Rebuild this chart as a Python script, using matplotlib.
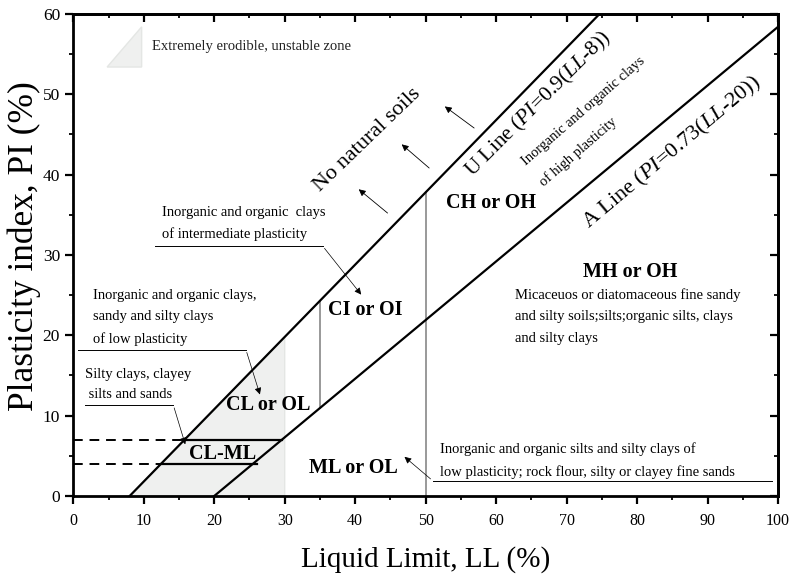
import numpy as np
import matplotlib.pyplot as plt
from matplotlib.patches import Polygon

plt.rcParams['font.family'] = 'Liberation Serif'
plt.rcParams['mathtext.fontset'] = 'custom'
plt.rcParams['mathtext.rm'] = 'Liberation Serif'
plt.rcParams['mathtext.it'] = 'Liberation Serif:italic'
plt.rcParams['hatch.color'] = '#c8c8c8'
plt.rcParams['hatch.linewidth'] = 0.6

# ---------------- chart data ----------------
u_ll = [8, 74.67]          # U line PI = 0.9(LL-8)
u_pi = [0, 60]
a_ll = [20, 100]           # A line PI = 0.73(LL-20)
a_pi = [0, 58.4]
zone_ll = [8, 30, 30]      # extremely erodible zone
zone_pi = [0, 19.8, 0]
clml_ll = [12.44, 15.78, 29.59, 25.48]
clml_pi = [4, 7, 7, 4]
pi7_dash = [0, 15.78]
pi4_dash = [0, 12.44]
pi7_solid = [15.78, 29.59]
pi4_solid = [12.44, 26.0]
v35_pi = [10.95, 24.3]
v50_pi = [0, 37.8]

fig = plt.figure(figsize=(7.95, 5.76), dpi=100)
ax = fig.add_axes([0.0922, 0.1389, 0.8864, 0.8368])

ax.add_patch(Polygon(list(zip(zone_ll, zone_pi)), closed=True, fc='#eff0ef', ec='#e4e6e4', lw=1, zorder=1))
ax.add_patch(Polygon(list(zip(clml_ll, clml_pi)), closed=True, fc='none', ec='none', hatch='////', zorder=1.5))

ax.plot(u_ll, u_pi, c='k', lw=1.6, zorder=3)
ax.plot(a_ll, a_pi, c='k', lw=1.6, zorder=3)
ax.plot([35, 35], v35_pi, c='#999999', lw=1.4, zorder=2)
ax.plot([50, 50], v50_pi, c='#999999', lw=1.4, zorder=2)
ax.plot(pi7_dash, [7, 7], '--', c='k', lw=1.4, dashes=(5, 3.5))
ax.plot(pi4_dash, [4, 4], '--', c='k', lw=1.4, dashes=(5, 3.5))
ax.plot(pi7_solid, [7, 7], c='k', lw=1.6)
ax.plot(pi4_solid, [4, 4], c='k', lw=1.6)

ax.set_xlim(0, 100)
ax.set_ylim(0, 60)
ax.set_xticks(np.arange(0, 101, 10))
ax.set_yticks(np.arange(0, 61, 10))
ax.set_xticks(np.arange(0, 101, 5), minor=True)
ax.set_yticks(np.arange(0, 61, 5), minor=True)
ax.tick_params(which='major', direction='out', length=6, width=1.6)
ax.tick_params(which='minor', direction='out', length=3, width=1.3)
ax.tick_params(axis='x', which='major', labelsize=11.5, pad=6.5)
ax.tick_params(axis='y', which='major', labelsize=12.5, pad=3.5)
for s in ax.spines.values():
    s.set_linewidth(2)

top = ax.secondary_xaxis('top')
top.set_xticks(np.arange(0, 101, 10))
top.set_xticks(np.arange(0, 101, 5), minor=True)
top.tick_params(which='major', direction='in', length=6, width=1.6, labeltop=False)
top.tick_params(which='minor', direction='in', length=3, width=1.3)
right = ax.secondary_yaxis('right')
right.set_yticks(np.arange(0, 61, 10))
right.set_yticks(np.arange(0, 61, 5), minor=True)
right.tick_params(which='major', direction='in', length=6, width=1.6, labelright=False)
right.tick_params(which='minor', direction='in', length=3, width=1.3)
top.spines['top'].set_linewidth(2)
right.spines['right'].set_linewidth(2)

ax.set_xlabel('Liquid Limit, LL (%)', fontsize=21, labelpad=12)
ax.set_ylabel('Plasticity index, PI (%)', fontsize=25.5)
ax.yaxis.set_label_coords(-0.046, 0.519)

# legend-like erodible zone marker
ax.add_patch(Polygon([(4.8, 53.4), (9.7, 58.4), (9.7, 53.4)], closed=True, fc='#eff0ef', ec='#e4e6e4', lw=1))
ax.text(11.2, 55.9, 'Extremely erodible, unstable zone', fontsize=10.5, va='center', color='#222222')

# big rotated labels
ax.text(41.8, 44.3, 'No natural soils', fontsize=16, rotation=44, ha='center', va='center')
ax.text(66.0, 48.8, 'U Line ($\\mathit{PI}$=$\\mathit{0.9(LL}$-$\\mathit{8)}$)', fontsize=15.5,
        rotation=45, ha='center', va='center')
ax.text(85.0, 42.7, 'A Line ($\\mathit{PI}$=$\\mathit{0.73(LL}$-$\\mathit{20)}$)', fontsize=16,
        rotation=40, ha='center', va='center')
ax.text(73.7, 46.6, 'Inorganic and organic clays\nof high plasticity', fontsize=10.4,
        rotation=41, ha='center', va='center', linespacing=2.2, multialignment='left')

# arrows pointing into the no-natural-soils zone
for (x0, y0, x1, y1) in [(44.9, 35.0, 40.2, 38.4), (50.8, 40.6, 46.3, 44.0), (57.2, 45.6, 52.4, 48.7)]:
    ax.annotate('', xy=(x1, y1), xytext=(x0, y0),
                arrowprops=dict(arrowstyle='-|>', color='k', lw=0.6, mutation_scale=10))

# zone labels
bold = dict(fontsize=14.5, fontweight='bold', ha='center', va='center')
ax.text(59.3, 36.5, 'CH or OH', **bold)
ax.text(79.0, 27.9, 'MH or OH', **bold)
ax.text(41.5, 23.2, 'CI or OI', **bold)
ax.text(27.6, 11.3, 'CL or OL', **bold)
ax.text(21.2, 5.2, 'CL-ML', **bold)
ax.text(39.8, 3.5, 'ML or OL', **bold)

ax.text(62.7, 25.9, 'Micaceuos or diatomaceous fine sandy\nand silty soils;silts;organic silts, clays\nand silty clays',
        fontsize=10.5, va='top', linespacing=1.85)

# annotated descriptions with underline + arrow
def note(txt, x, y, x0, x1, yl, xh, yh, ls=1.8):
    ax.text(x, y, txt, fontsize=10.5, va='bottom', linespacing=ls)
    ax.plot([x0, x1], [yl, yl], c='k', lw=0.7)
    ax.annotate('', xy=(xh, yh), xytext=(x1, yl),
                arrowprops=dict(arrowstyle='-|>', color='k', lw=0.5, mutation_scale=10))

note('Inorganic and organic  clays\nof intermediate plasticity', 12.6, 31.7, 11.6, 35.4, 31.1, 41.1, 24.8)
note('Inorganic and organic clays,\nsandy and silty clays\nof low plasticity', 2.8, 18.7, 0.7, 24.5, 18.2, 26.6, 12.3)
note('Silty clays, clayey\n silts and sands', 1.6, 11.8, 1.6, 14.2, 11.3, 16.0, 6.1, ls=1.7)

ax.text(52.1, 2.1, 'Inorganic and organic silts and silty clays of\nlow plasticity; rock flour, silty or clayey fine sands',
        fontsize=10.5, va='bottom', linespacing=1.85)
ax.plot([51.0, 99.2], [1.9, 1.9], c='k', lw=0.7)
ax.annotate('', xy=(46.7, 5.1), xytext=(51.0, 1.9),
            arrowprops=dict(arrowstyle='-|>', color='k', lw=0.5, mutation_scale=10))

plt.savefig('out.png', dpi=100)
